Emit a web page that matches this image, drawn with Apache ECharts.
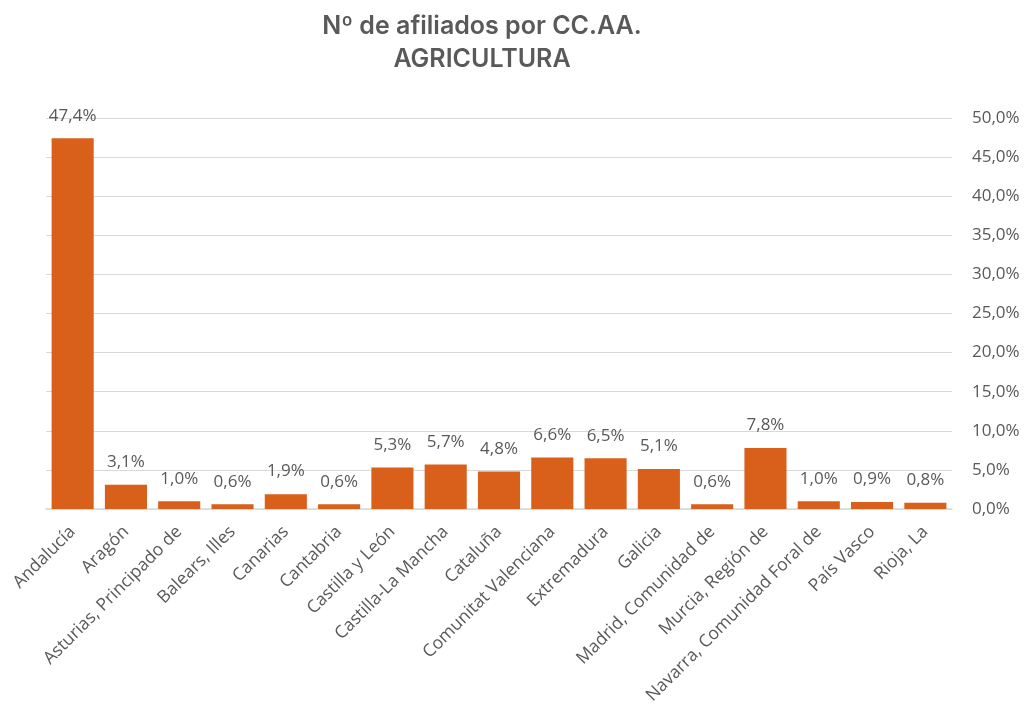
<!DOCTYPE html>
<html>
<head>
<meta charset="utf-8">
<script src="https://cdn.jsdelivr.net/npm/echarts@6/dist/echarts.min.js"></script>
<style>
  html, body { margin: 0; padding: 0; background: #fff; }
  #chart { width: 1033px; height: 716px; }
</style>
</head>
<body>
<div id="chart"></div>
<script>
// categories (CC.AA.)
const regions = [
  'Andalucía', 'Aragón', 'Asturias, Principado de', 'Balears, Illes', 'Canarias',
  'Cantabria', 'Castilla y León', 'Castilla-La Mancha', 'Cataluña', 'Comunitat Valenciana',
  'Extremadura', 'Galicia', 'Madrid, Comunidad de', 'Murcia, Región de',
  'Navarra, Comunidad Foral de', 'País Vasco', 'Rioja, La'
]
// % de afiliados, agricultura
const shares = [47.4, 3.1, 1.0, 0.6, 1.9, 0.6, 5.3, 5.7, 4.8, 6.6, 6.5, 5.1, 0.6, 7.8, 1.0, 0.9, 0.8]

const fmt = v => v.toFixed(1).replace('.', ',') + '%'
const grey = '#595959'
const font = '"Open Sans", "Noto Sans", sans-serif'

const chart = echarts.init(document.getElementById('chart'), null, { renderer: 'canvas' })
chart.setOption({
  animation: false,
  title: {
    text: 'Nº de afiliados por CC.AA.\nAGRICULTURA',
    left: 477,
    top: 5,
    textAlign: 'center',
    textStyle: {
      color: grey,
      fontFamily: 'Inter, Lato, sans-serif',
      fontWeight: 600,
      fontSize: 25,
      lineHeight: 33
    }
  },
  grid: { left: 46, right: 81, top: 118, bottom: 207, containLabel: false },
  xAxis: {
    type: 'category',
    data: regions,
    axisLine: { lineStyle: { color: '#d9d9d9', width: 1.5 } },
    axisTick: { show: false },
    axisLabel: {
      interval: 0,
      rotate: 45,
      color: grey,
      fontFamily: font,
      fontSize: 17.5,
      margin: 20
    }
  },
  yAxis: {
    type: 'value',
    position: 'right',
    min: 0,
    max: 50,
    interval: 5,
    axisLine: { show: false },
    axisTick: { show: false },
    splitLine: { lineStyle: { color: '#d9d9d9', width: 1 } },
    axisLabel: {
      formatter: fmt,
      color: grey,
      fontFamily: font,
      fontSize: 17,
      margin: 20
    }
  },
  series: [{
    type: 'bar',
    data: shares,
    barCategoryGap: '21%',
    itemStyle: { color: '#D9601A' },
    label: {
      show: true,
      position: 'top',
      distance: 14,
      formatter: p => fmt(p.value),
      color: grey,
      fontFamily: font,
      fontSize: 17
    }
  }]
})
</script>
</body>
</html>
